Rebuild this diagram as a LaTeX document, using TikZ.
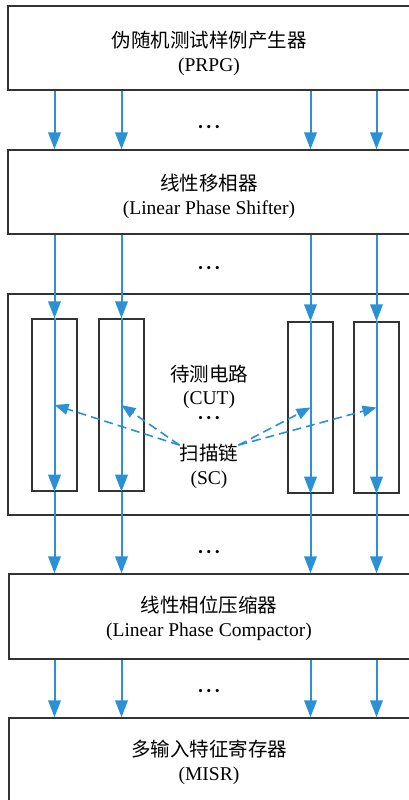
\documentclass[tikz,border=0pt]{standalone}
\usepackage{fontspec}
\setmainfont{Liberation Serif}
\newfontfamily\cjk{Noto Sans CJK SC}
\usetikzlibrary{arrows.meta,calc}
\definecolor{flow}{HTML}{2B91D5}
\definecolor{edgegray}{HTML}{333333}
\newcommand{\mydots}{{\bfseries ·\kern1.8pt·\kern1.8pt·}}
\begin{document}
\begin{tikzpicture}[x=1pt,y=-1pt,
  font=\fontsize{19.5}{24}\selectfont,
  block/.style={draw=edgegray, line width=1.4pt, inner sep=0pt, minimum width=403pt},
  chainbox/.style={draw=edgegray, line width=1.4pt, inner sep=0pt, minimum width=45pt},
  flowarrow/.style={draw=flow, line width=2pt, -{Triangle[length=17pt,width=12.5pt]}},
  scanarrow/.style={draw=flow, line width=1.6pt, dash pattern=on 9pt off 5pt, -{Triangle[length=14pt,width=11pt]}},
  lbl/.style={inner sep=0pt, align=center}]
\useasboundingbox (0,0) rectangle (409,800);
\clip (0,0) rectangle (409,800);

% main blocks
\node[block, minimum height=84pt] (prpg) at (209.5,48) {};
\node[block, minimum height=84pt] (shifter) at (209.5,192) {};
\node[block, minimum height=221pt] (cutbox) at (209.5,404.5) {};
\node[block, minimum height=85pt] (compactor) at (210.5,616.5) {};
\node[block, minimum height=85pt] (misr) at (210.5,760.5) {};

% block texts
\node[lbl] (prpgtxt) at (209,53.5) {\cjk 伪随机测试样例产生器\\(PRPG)};
\node[lbl] (shiftertxt) at (209,196) {\cjk 线性移相器\\(Linear Phase Shifter)};
\node[lbl] (compactortxt) at (209,618.5) {\cjk 线性相位压缩器\\(Linear Phase Compactor)};
\node[lbl] (misrtxt) at (209,762) {\cjk 多输入特征寄存器\\(MISR)};

% scan chains
\node[chainbox, minimum height=172pt] (chA) at (54.5,405) {};
\node[chainbox, minimum height=172pt] (chB) at (121.5,405) {};
\node[chainbox, minimum height=171pt] (chC) at (310.5,407.5) {};
\node[chainbox, minimum height=171pt] (chD) at (376.5,407.5) {};

% labels inside CUT
\node[lbl] (cut) at (209,374) {\cjk 待测电路};
\node[lbl] (cuten) at (209,400) {(CUT)};
\node[lbl] (dotsC) at (209,420) {\mydots};
\node[lbl] (sc) at (209,453) {\cjk 扫描链};
\node[lbl] (scen) at (209,480) {(SC)};

% dots between blocks
\node[lbl] (dots1) at (209,129) {\mydots};
\node[lbl] (dots2) at (209,270) {\mydots};
\node[lbl] (dots3) at (209,554) {\mydots};
\node[lbl] (dots4) at (209,693) {\mydots};

% flow arrows
\foreach \c in {chA,chB,chC,chD} {
  \draw[flowarrow] (prpg.south -| \c) -- (shifter.north -| \c);
  \draw[flowarrow] (shifter.south -| \c) -- (\c.north);
  \draw[flowarrow] (\c.north) -- (\c.south);
  \draw[flowarrow] (\c.south) -- (compactor.north -| \c);
  \draw[flowarrow] (compactor.south -| \c) -- (misr.north -| \c);
}

% scan chain pointers
\draw[scanarrow] (sc.165) -- (chA.center);
\draw[scanarrow] (sc.165) -- (chB.center);
\draw[scanarrow] (sc.15) -- (chC.center);
\draw[scanarrow] (sc.15) -- (chD.center);
\end{tikzpicture}
\end{document}
